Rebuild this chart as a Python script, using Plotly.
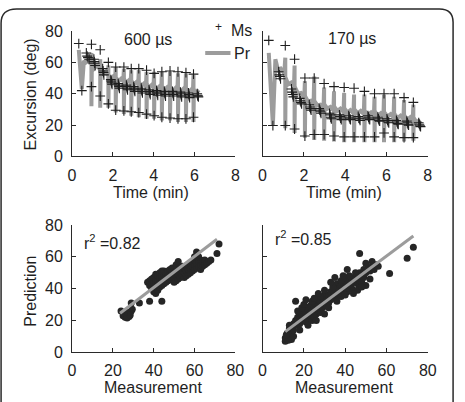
import plotly.graph_objects as go

W, H = 465, 402
FONT = "Liberation Sans, Arial, Helvetica, sans-serif"
INK = "#1e1e1e"
GRAY = "#9c9c9c"

# ---------------- Top-left panel: 600 µs ----------------
L_hi_t = [0.33, 0.95, 1.38, 1.78, 2.14, 2.54, 2.90, 3.27, 3.65, 4.02, 4.40, 4.80, 5.19, 5.58, 5.95]
L_lo_t = [0.48, 0.95, 1.38, 1.78, 2.14, 2.54, 2.90, 3.27, 3.65, 4.02, 4.40, 4.80, 5.19, 5.58, 5.95]
L_ms_hi = [72, 71.5, 68, 60, 57, 57, 56, 56, 55, 53, 54, 54.5, 54, 53.5, 52.5]
L_ms_lo = [42, 44.5, 38.5, 33.5, 29.5, 29, 28.5, 28, 27, 26, 25, 24.5, 24, 24, 25]
L_pr_hi = [68, 66, 62, 58, 57, 56, 55, 55, 54, 54, 54, 54, 53, 53, 52]
L_pr_lo = [43, 32, 31, 31, 28, 27, 26, 25, 24, 24, 23, 23, 22, 22, 22]
L_pr_mid_t = [
    [0.58, 0.68, 0.78, 0.92], [0.97, 1.08, 1.22, 1.35], [1.40, 1.52, 1.64, 1.75],
    [1.80, 1.90, 2.02, 2.11], [2.16, 2.28, 2.40, 2.51], [2.56, 2.66, 2.78, 2.87],
    [2.92, 3.04, 3.16, 3.24], [3.29, 3.40, 3.52, 3.62], [3.67, 3.78, 3.90, 3.99],
    [4.04, 4.15, 4.27, 4.37], [4.42, 4.54, 4.66, 4.77], [4.82, 4.94, 5.06, 5.16],
    [5.21, 5.33, 5.45, 5.55], [5.60, 5.71, 5.83, 5.92], [5.97, 6.06, 6.15, 6.22],
]
L_pr_mid = [
    [61, 60, 61, 59], [58, 56, 58, 56], [55, 53, 54, 52], [51, 49.5, 51, 49.5],
    [50, 48, 49.5, 48], [49, 47, 48.5, 47], [48, 46, 47.5, 46], [47, 45, 46.5, 45],
    [46, 44, 45.5, 44], [45, 43, 44.5, 43], [44.5, 42.5, 44, 42.5], [44, 42, 43.5, 42],
    [43.5, 41.5, 43, 41.5], [43, 41, 42.5, 41], [42.5, 40.5, 41.5, 40.5],
]
L_ms_mid_t = [
    [0.70, 0.74, 0.78, 0.84], [1.07, 1.09, 1.11, 1.13], [1.50, 1.52, 1.54, 1.56],
    [1.90, 1.92, 1.94, 1.96], [2.26, 2.28, 2.30, 2.32], [2.66, 2.68, 2.70, 2.72],
    [3.02, 3.04, 3.06, 3.08], [3.39, 3.41, 3.43, 3.45], [3.77, 3.79, 3.81, 3.83],
    [4.14, 4.16, 4.18, 4.20], [4.52, 4.54, 4.56, 4.58], [4.92, 4.94, 4.96, 4.98],
    [5.31, 5.33, 5.35, 5.37], [5.70, 5.72, 5.74, 5.76], [6.13, 6.15, 6.17, 6.19],
]
L_ms_mid = [
    [66, 64, 63, 62], [62, 60.5, 59.5, 58], [56, 54.5, 53.5, 52], [49, 48, 47, 46],
    [46.5, 45.5, 44.5, 43.5], [45.5, 44.5, 43.5, 42.5], [44.5, 43.5, 42.5, 41.5],
    [43.5, 42.5, 41.5, 40.5], [42.5, 41.5, 40.5, 39.5], [42, 41, 40, 39],
    [41.5, 40.5, 39.5, 38.5], [41.5, 40.5, 39.5, 38.5], [41, 40, 39, 38],
    [40.5, 39.5, 38.5, 37.5], [40, 39, 38.5, 38],
]

# ---------------- Top-right panel: 170 µs ----------------
R_hi_t = [0.30, 1.10, 1.55, 2.05, 2.50, 2.98, 3.46, 3.95, 4.43, 4.93, 5.42, 5.88, 6.37, 6.85, 7.30]
R_lo_t = [0.50, 1.10, 1.55, 2.05, 2.50, 2.98, 3.46, 3.95, 4.43, 4.93, 5.42, 5.88, 6.37, 6.85, 7.30]
R_ms_hi = [74, 70.7, 62, 50, 50, 46.5, 44.5, 44, 43.5, 41.5, 40, 40, 40, 37.5, 34.5]
R_ms_lo = [19.7, 19.7, 17.5, 13, 14, 14, 13, 12.5, 12.5, 12.5, 12.5, 15, 12.5, 12, 12]
R_pr_hi = [66, 63, 58, 48, 51, 44, 41.5, 40.5, 39.5, 39.5, 38, 39.5, 38, 36, 33]
R_pr_lo = [20, 18, 15, 12, 10.5, 10, 9.5, 9, 9, 9, 9, 9, 9, 9.5, 10]
R_pr_mid_t = [
    [0.62, 0.75, 0.88, 1.05], [1.12, 1.24, 1.38, 1.52], [1.57, 1.72, 1.86, 2.02],
    [2.07, 2.20, 2.34, 2.47], [2.52, 2.66, 2.80, 2.95], [3.00, 3.14, 3.28, 3.43],
    [3.48, 3.62, 3.77, 3.92], [3.97, 4.11, 4.25, 4.40], [4.45, 4.60, 4.75, 4.90],
    [4.95, 5.10, 5.25, 5.39], [5.44, 5.58, 5.72, 5.85], [5.90, 6.05, 6.20, 6.34],
    [6.39, 6.53, 6.68, 6.82], [6.87, 7.01, 7.15, 7.27], [7.32, 7.45, 7.56, 7.66],
]
R_pr_mid = [
    [62, 55, 56, 53], [50, 46, 47, 44], [44, 40, 40.5, 37.5], [38, 35, 35.5, 33.5],
    [35, 32.5, 33, 31], [33, 30.5, 31.5, 29.5], [31.5, 29, 30.5, 28.5], [30.5, 28, 29.5, 27.5],
    [30, 27.5, 29, 27], [29, 26.5, 28, 26], [28.5, 26, 27.5, 25.5], [28, 25.5, 27, 25],
    [27, 24.5, 26, 24], [26, 23.5, 25, 23], [24.5, 22, 22.5, 21],
]
R_ms_mid_t = [
    [0.78, 0.81, 0.84, 0.87], [1.40, 1.43, 1.46, 1.49], [1.80, 1.83, 1.86, 1.89],
    [2.26, 2.29, 2.32, 2.35], [2.74, 2.77, 2.80, 2.83], [3.24, 3.27, 3.30, 3.33],
    [3.72, 3.75, 3.78, 3.81], [4.17, 4.20, 4.23, 4.26], [4.63, 4.66, 4.69, 4.72],
    [5.10, 5.13, 5.16, 5.19], [5.58, 5.61, 5.64, 5.67], [6.02, 6.05, 6.08, 6.11],
    [6.48, 6.51, 6.54, 6.57], [6.98, 7.01, 7.04, 7.07], [7.56, 7.59, 7.62, 7.65],
]
R_ms_mid = [
    [54, 52, 51, 49.5], [43, 41, 39.5, 38], [37, 35.5, 34.5, 33.5], [33, 31.5, 30.5, 29.5],
    [30.5, 29.5, 28.5, 27.5], [27.5, 26.5, 25, 24], [26.5, 25.5, 24.5, 23.5],
    [26, 25, 24, 23.5], [25.5, 24.5, 24, 23], [26, 25, 24, 23.5], [25, 24, 23, 22.5],
    [24, 23, 22, 21.5], [23, 22, 21, 20.5], [22.5, 21.5, 20.5, 20], [21.5, 20.5, 19.5, 19],
]

# ---------------- Bottom-left scatter (600 µs) ----------------
BL_meas = [24, 25, 26, 26.5, 27, 27.5, 28, 28, 29, 29.5, 26, 27, 28.5, 25.5,
           29, 33, 38, 44, 72, 71, 61, 66,
           37, 38, 38, 39, 39, 39, 40, 40, 40, 40, 41, 41, 41, 41, 41, 42, 42, 42, 42,
           43, 43, 43, 43, 44, 44, 44, 44, 45, 45, 45, 45, 46, 46, 46, 47, 47, 47,
           48, 48, 48, 49, 49, 49, 50, 50, 50, 50, 51, 51, 51, 51, 52, 52, 52, 52,
           53, 53, 53, 54, 54, 54, 55, 55, 55, 56, 56, 56, 57, 57, 57, 58, 58, 58,
           59, 59, 59, 60, 60, 60, 61, 61, 62, 62, 63, 63, 63, 64, 64, 65, 65, 66,
           67, 68, 62, 60]
BL_pred = [26, 23, 22, 24, 23, 25, 22.5, 24, 26, 27, 25, 21.5, 23.5, 24.5,
           31, 31, 32, 32, 68, 62, 63, 57,
           44, 42, 45, 40, 43, 46, 38, 41, 44, 47, 37, 40, 43, 46, 49, 39, 42, 45, 48,
           41, 44, 47, 50, 42, 45, 48, 51, 43, 46, 49, 51, 44, 47, 50, 45, 48, 51,
           46, 49, 52, 47, 50, 53, 44, 47, 50, 53, 45, 48, 51, 55, 46, 49, 52, 57,
           47, 50, 53, 48, 51, 54, 47, 50, 53, 48, 51, 54, 49, 52, 55, 50, 53, 56,
           51, 54, 57, 52, 55, 58, 53, 56, 54, 57, 52, 55, 58, 54, 57, 55, 58, 56,
           57, 58, 60, 60]
BL_fit_x = [23.5, 71]
BL_fit_y = [24.5, 71]

# ---------------- Bottom-right scatter (170 µs) ----------------
BR_meas = [11, 12, 13, 12, 13, 14, 14, 11, 12, 13, 14, 15, 12.5, 11.5,
           13, 13, 14, 15, 15, 16, 16, 17, 17, 18, 18, 19, 19, 20, 20, 21, 21, 22, 22,
           23, 23, 23, 24, 24, 25, 25, 25, 26, 26, 27, 27, 27, 28, 28, 29, 29, 30, 30,
           31, 31, 32, 32, 33, 33, 34, 35, 35, 36, 36, 37, 37, 38, 38, 39, 39, 40, 40,
           41, 41, 42, 42, 43, 43, 44, 44, 45, 46, 46, 47, 47, 48, 48, 49, 49, 50, 51,
           52, 53, 54, 55, 56, 50, 46,
           17, 19, 22, 24, 26, 28, 30, 32, 34, 36, 38, 40, 42, 44, 45, 48, 52, 53, 50,
           18, 20, 25, 33, 39, 41, 30, 27,
           16, 21, 35, 47, 73, 70, 61.5]
BR_pred = [7, 8, 9, 10, 11, 8, 10, 9, 12, 13, 12, 10, 7.5, 11,
           15, 17, 16, 14, 18, 20, 17, 19, 22, 21, 18, 24, 20, 22, 26, 19, 24, 21, 27,
           23, 25, 29, 20, 26, 22, 28, 31, 24, 30, 26, 29, 33, 25, 31, 28, 34, 30, 36,
           29, 33, 31, 36, 33, 38, 34, 36, 40, 38, 43, 36, 40, 35, 42, 39, 44, 41, 46,
           38, 43, 40, 45, 42, 47, 39, 44, 46, 43, 48, 45, 50, 44, 49, 47, 52, 50, 53,
           51, 54, 52, 55, 54, 42, 39,
           26, 28, 17, 32, 20, 35, 24, 28, 41, 32, 45, 36, 48, 37, 50, 41, 46, 57, 56,
           14, 30, 34, 44, 48, 52, 39, 37,
           32, 33, 47, 62, 66, 59, 49.5]
BR_fit_x = [11, 73]
BR_fit_y = [13, 73]

TIME_TICKS = [0, 2, 4, 6, 8]
VAL_TICKS = [0, 20, 40, 60, 80]


def flat(nested):
    return [v for row in nested for v in row]


def pr_path(hi_t, lo_t, hi, lo, mid_t, mid):
    xs, ys = [], []
    for i in range(len(hi_t)):
        xs += [hi_t[i], lo_t[i]] + mid_t[i]
        ys += [hi[i], lo[i]] + mid[i]
    return xs, ys


fig = go.Figure()

marker_ms = dict(symbol="cross-thin", size=7, line=dict(width=1.1, color=INK), color=INK)
pr_line = dict(color=GRAY, width=4, simplify=False)

# top-left
px_, py_ = pr_path(L_hi_t, L_lo_t, L_pr_hi, L_pr_lo, L_pr_mid_t, L_pr_mid)
fig.add_trace(go.Scatter(x=px_, y=py_, mode="lines", line=pr_line,
                         xaxis="x", yaxis="y", name="Pr"))
fig.add_trace(go.Scatter(x=L_hi_t + L_lo_t + flat(L_ms_mid_t),
                         y=L_ms_hi + L_ms_lo + flat(L_ms_mid),
                         mode="markers", marker=marker_ms, xaxis="x", yaxis="y", name="Ms"))
# top-right
px_, py_ = pr_path(R_hi_t, R_lo_t, R_pr_hi, R_pr_lo, R_pr_mid_t, R_pr_mid)
fig.add_trace(go.Scatter(x=px_, y=py_, mode="lines", line=pr_line,
                         xaxis="x2", yaxis="y2", name="Pr"))
fig.add_trace(go.Scatter(x=R_hi_t + R_lo_t + flat(R_ms_mid_t),
                         y=R_ms_hi + R_ms_lo + flat(R_ms_mid),
                         mode="markers", marker=marker_ms, xaxis="x2", yaxis="y2", name="Ms"))
# bottom-left
fig.add_trace(go.Scatter(x=BL_meas, y=BL_pred, mode="markers",
                         marker=dict(size=7, color="#262626"), xaxis="x3", yaxis="y3"))
fig.add_trace(go.Scatter(x=BL_fit_x, y=BL_fit_y, mode="lines", line=dict(color=GRAY, width=3),
                         xaxis="x3", yaxis="y3"))
# bottom-right
fig.add_trace(go.Scatter(x=BR_meas, y=BR_pred, mode="markers",
                         marker=dict(size=7, color="#262626"), xaxis="x4", yaxis="y4"))
fig.add_trace(go.Scatter(x=BR_fit_x, y=BR_fit_y, mode="lines", line=dict(color=GRAY, width=3),
                         xaxis="x4", yaxis="y4"))


def X(p):
    return p / W


def Y(p):
    return 1 - p / H


def axis(domain, rng, ticks, labels=True, anchor=None, standoff=6):
    d = dict(domain=domain, range=rng, tickvals=ticks, showticklabels=labels,
             showline=True, linecolor="#2a2a2a", linewidth=1, ticks="inside", ticklen=4,
             tickcolor="#2a2a2a", showgrid=False, zeroline=False, fixedrange=True,
             tickfont=dict(family=FONT, size=16, color=INK), ticklabelstandoff=standoff)
    if anchor:
        d["anchor"] = anchor
    return d


XL = [X(70), X(238)]
XR = [X(266), X(436)]
YT = [Y(155), Y(24)]
YB = [Y(359.5), Y(226.5)]

fig.update_layout(
    width=W, height=H, margin=dict(l=0, r=0, t=0, b=0),
    paper_bgcolor="white", plot_bgcolor="white", showlegend=False,
    xaxis=axis(XL, [0, 8], TIME_TICKS, anchor="y", standoff=4),
    yaxis=axis(YT, [0, 80], VAL_TICKS, anchor="x", standoff=5),
    xaxis2=axis(XR, [0, 8], TIME_TICKS, anchor="y2", standoff=4),
    yaxis2=axis(YT, [0, 80], VAL_TICKS, labels=False, anchor="x2"),
    xaxis3=axis(XL, [0, 80], VAL_TICKS, anchor="y3", standoff=4),
    yaxis3=axis(YB, [0, 80], VAL_TICKS, anchor="x3", standoff=5),
    xaxis4=axis(XR, [0, 80], VAL_TICKS, anchor="y4", standoff=4),
    yaxis4=axis(YB, [0, 80], VAL_TICKS, labels=False, anchor="x4"),
)


def note(text, x, y, xanchor="center", yanchor="middle", size=16, angle=0):
    fig.add_annotation(text=text, x=X(x), y=Y(y), xref="paper", yref="paper",
                       xanchor=xanchor, yanchor=yanchor, showarrow=False, textangle=angle,
                       font=dict(family=FONT, size=size, color=INK))


note("Excursion (deg)", 27, 90, angle=-90)
note("Prediction", 27, 296, angle=-90)
note("Time (min)", 151, 193)
note("Time (min)", 350, 193)
note("Measurement", 153, 396)
note("Measurement", 350, 396)
note("600 µs", 148, 33)
note("170 µs", 358, 32)
note("r<sup>2</sup> =0.82", 80, 244, xanchor="left")
note("r<sup>2</sup> =0.85", 277, 240, xanchor="left")

# legend (drawn by hand)
note("+", 221, 20, size=12)
note("Ms", 231, 24, xanchor="left")
note("Pr", 235, 48, xanchor="left")
fig.add_shape(type="line", xref="paper", yref="paper", x0=X(207), x1=X(233), y0=Y(47), y1=Y(47),
              line=dict(color=GRAY, width=4))


# rounded outer frame (bottom and left edges run off the picture)
def pt(x, y):
    return f"{X(x):.5f},{Y(y):.5f}"


frame = (f"M {pt(-3, 420)} L {pt(-3, 16)} Q {pt(-3, 1)} {pt(13, 1)} "
         f"L {pt(448, 1)} Q {pt(462, 1)} {pt(462, 15)} L {pt(462, 420)}")
fig.add_shape(type="path", path=frame, xref="paper", yref="paper",
              line=dict(color="#2a2a2a", width=1.5))

fig.write_html("out.html")
